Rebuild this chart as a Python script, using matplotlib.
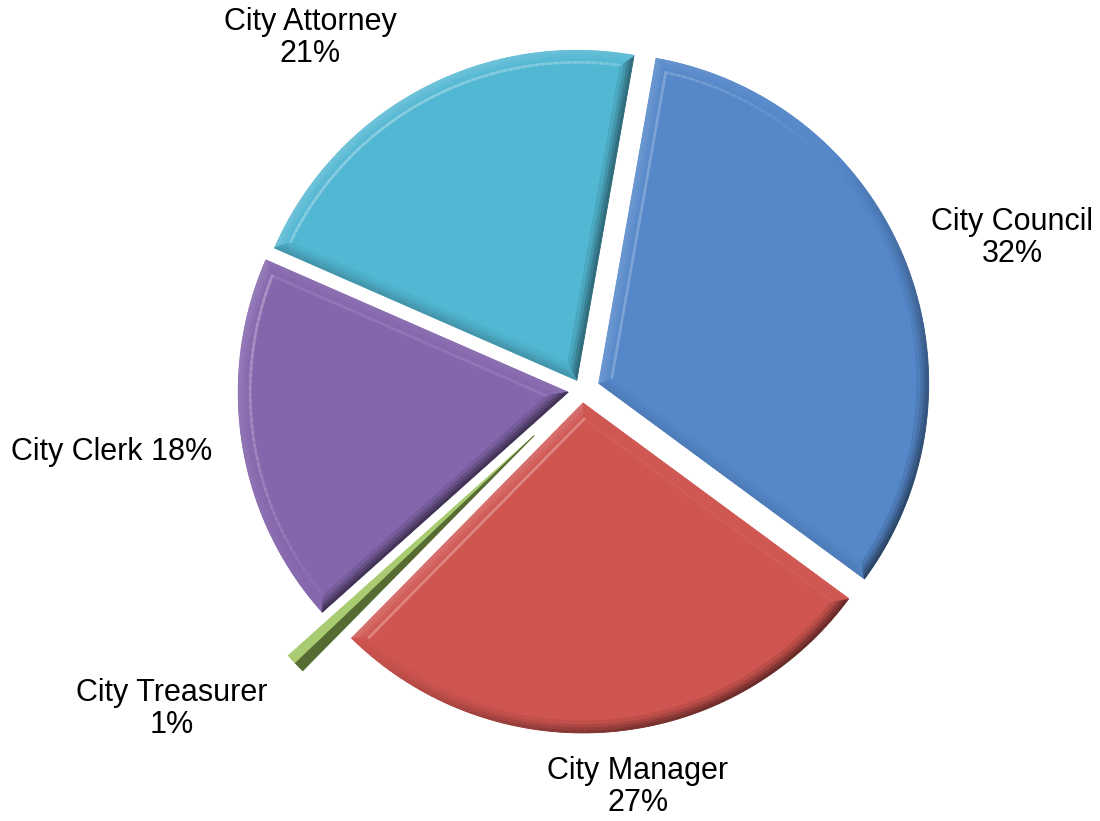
import numpy as np
import matplotlib
matplotlib.use("Agg")
import matplotlib.pyplot as plt
from matplotlib.patches import Polygon
from matplotlib.colors import to_rgb

# Budget share by department (percent)
departments = ["City Council", "City Manager", "City Treasurer", "City Clerk", "City Attorney"]
shares = [32, 27, 1, 18, 21]
colors = ["#5587C9", "#CF5550", "#9BC25A", "#8466AC", "#52B7D2"]
# slice offsets, in the same units as the radius
explode = [18, 13, 66, 14, 11]
label_sep = ["\n", "\n", "\n", " ", "\n"]

# label anchor points (figure pixel space, y up)
label_pos = [(1012, 583), (638, 34), (172, 112), (112, 369), (310, 783)]

plt.rcParams["font.family"] = ["Liberation Sans", "DejaVu Sans"]

fig = plt.figure(figsize=(11, 8.21), dpi=100)
ax = fig.add_axes([0, 0, 1, 1])

wedges, _ = ax.pie(shares, explode=explode, colors=colors, startangle=80,
                   counterclock=False, radius=330, center=(582, 431),
                   wedgeprops=dict(linewidth=0))

LIGHT = np.radians(135)


def shade(base, normal_angle, strength=1.0, k_light=0.16, k_dark=0.5):
    c = np.array(to_rgb(base))
    s = np.cos(normal_angle - LIGHT) * strength
    if s >= 0:
        return tuple(np.clip(c + (1 - c) * k_light * s, 0, 1))
    return tuple(np.clip(c * (1 + k_dark * s), 0, 1))


def add_poly(pts, color, z=3):
    ax.add_patch(Polygon(pts, closed=True, facecolor=color, edgecolor=color,
                         linewidth=0.6, zorder=z))


def outline(cx, cy, r, t1, t2, inset, n):
    """Apex and arc points of a wedge shrunk inward by `inset`."""
    half = (t2 - t1) / 2
    bis = (t1 + t2) / 2
    d = inset / np.sin(half)
    apex = (cx + d * np.cos(bis), cy + d * np.sin(bis))
    rho = r - inset
    off = np.arcsin(inset / rho)
    th = np.linspace(t1 + off, t2 - off, n)
    arc = list(zip(cx + rho * np.cos(th), cy + rho * np.sin(th)))
    return apex, arc, th


def bevel(wedge, base, width=12, bands=(1.0, 0.75, 0.45, 0.2)):
    cx, cy = wedge.center
    r = wedge.r
    t1, t2 = np.radians(wedge.theta1), np.radians(wedge.theta2)
    half = (t2 - t1) / 2
    if width / np.sin(half) > 0.45 * r:
        # sliver: split into a lit half and a shaded half
        tm = (t1 + t2) / 2
        for a, b, nang in [(t1, tm, t1 - np.pi / 2), (tm, t2, t2 + np.pi / 2)]:
            th = np.linspace(a, b, 8)
            pts = [(cx, cy)] + list(zip(cx + r * np.cos(th), cy + r * np.sin(th)))
            add_poly(pts, shade(base, nang, 0.9))
        return
    n = max(int(np.degrees(t2 - t1) / 1.2), 6)
    step = width / len(bands)
    for j, strength in enumerate(bands):
        A0, O, tho = outline(cx, cy, r, t1, t2, j * step, n)
        A1, I, _ = outline(cx, cy, r, t1, t2, (j + 1) * step, n)
        add_poly([A0, O[0], I[0], A1], shade(base, t1 - np.pi / 2, strength))
        for k in range(n - 1):
            add_poly([O[k], O[k + 1], I[k + 1], I[k]],
                     shade(base, (tho[k] + tho[k + 1]) / 2, strength))
        add_poly([O[-1], A0, A1, I[-1]], shade(base, t2 + np.pi / 2, strength))
    # soft gloss on the inner rim of lit edges
    c = np.array(to_rgb(base))
    Ai, I, thi = outline(cx, cy, r, t1, t2, width, n)
    segs = [([Ai, I[0]], t1 - np.pi / 2)]
    segs += [([I[k], I[k + 1]], (thi[k] + thi[k + 1]) / 2) for k in range(n - 1)]
    segs += [([I[-1], Ai], t2 + np.pi / 2)]
    for pts, nang in segs:
        s = np.cos(nang - LIGHT)
        if s > 0:
            (x0, y0), (x1, y1) = pts
            ax.plot([x0, x1], [y0, y1], color=tuple(c + (1 - c) * 0.35),
                    alpha=min(1.0, 0.8 * s), lw=2.0, solid_capstyle="round",
                    zorder=4)


for w, c in zip(wedges, colors):
    bevel(w, c)

for name, val, sep, (x, y) in zip(departments, shares, label_sep, label_pos):
    ax.text(x, y, f"{name}{sep}{val}%", ha="center", va="center",
            fontsize=22, linespacing=1.05, color="black")

ax.set_xlim(0, 1100)
ax.set_ylim(0, 821)
ax.set_aspect("equal")
ax.axis("off")

fig.savefig("out.png", dpi=100, facecolor="white")
